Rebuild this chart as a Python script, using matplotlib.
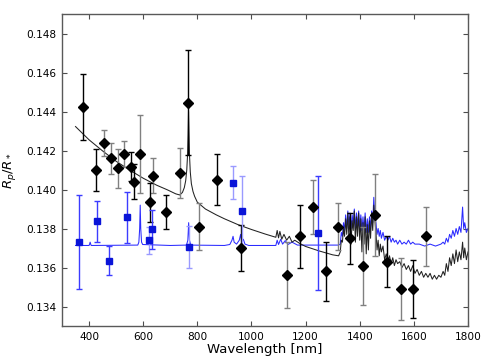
import matplotlib
matplotlib.use("Agg")
import matplotlib.pyplot as plt
import numpy as np

# measured points, black error bars
black_wl = [378, 426, 555, 567, 626, 685, 767, 874, 963, 1178, 1274, 1363, 1500, 1596]
black_rp = [0.14425, 0.14100, 0.14118, 0.14040, 0.13935, 0.13883, 0.14445, 0.14050,
            0.13700, 0.13760, 0.13580, 0.13750, 0.13630, 0.13490]
black_err = [0.0017, 0.0011, 0.00075, 0.0009, 0.0010, 0.00088, 0.0027, 0.0013,
             0.0012, 0.0016, 0.0015, 0.0013, 0.0013, 0.0015]

# measured points, grey error bars
grey_wl = [456, 481, 507, 530, 589, 637, 737, 807, 1133, 1226, 1318, 1411, 1456, 1552, 1644]
grey_rp = [0.14238, 0.14161, 0.14110, 0.14182, 0.14183, 0.14070, 0.14084, 0.13810,
           0.13560, 0.13910, 0.13810, 0.13610, 0.13870, 0.13490, 0.13760]
grey_err = [0.00065, 0.0008, 0.0010, 0.00065, 0.0020, 0.0009, 0.0013, 0.0012,
            0.0017, 0.0014, 0.0012, 0.0020, 0.0021, 0.0016, 0.0015]

# blue squares
blue_wl = [364, 431, 474, 542, 631, 1246]
blue_rp = [0.13730, 0.13837, 0.13635, 0.13858, 0.13795, 0.13777]
blue_err = [0.0024, 0.00105, 0.00075, 0.0013, 0.0010, 0.0029]
lblue_wl = [620, 770, 933, 964]
lblue_rp = [0.13740, 0.13705, 0.14034, 0.13888]
lblue_err = [0.0007, 0.0011, 0.00085, 0.0018]

# black model spectrum
model_k_wl = [350, 400, 450, 500, 550, 600, 650, 690, 720, 735, 745, 752, 757, 761, 764,
              766, 767.5, 769, 771, 774, 778, 784, 790, 800, 830, 870, 900, 950, 1000,
              1050, 1090, 1095, 1100, 1105, 1112, 1120, 1130, 1140, 1150, 1160, 1180,
              1200, 1250, 1300, 1322, 1328,
              1332, 1336, 1340, 1344, 1348, 1352, 1356, 1360, 1364, 1368, 1372, 1376,
              1380, 1384, 1388, 1392, 1396, 1400, 1404, 1408, 1412, 1416, 1420, 1424,
              1428, 1432, 1436, 1440, 1444, 1448, 1452, 1456, 1460, 1464, 1468, 1472,
              1476, 1480, 1486, 1492, 1498, 1504, 1510, 1516, 1522, 1528, 1534, 1540,
              1548, 1556, 1564, 1572, 1580, 1588, 1596, 1604, 1612, 1620, 1628, 1636,
              1644, 1652, 1660, 1668, 1676, 1684, 1692, 1700, 1708, 1714, 1720, 1726,
              1732, 1738, 1744, 1750, 1756, 1762, 1768, 1774, 1780, 1784, 1788, 1794, 1800]
model_k_rp = [0.14323, 0.14255, 0.14198, 0.14145, 0.14100, 0.14058, 0.14022, 0.13998,
              0.13978, 0.13972, 0.13985, 0.14010, 0.14045, 0.14100, 0.14180,
              0.14280, 0.14400, 0.14300, 0.14180, 0.14090, 0.14030, 0.13990, 0.13965,
              0.13935, 0.13900, 0.13870, 0.13850, 0.13820, 0.13795,
              0.13772, 0.13755, 0.13790, 0.13752, 0.13785, 0.13745, 0.13770, 0.13740,
              0.13760, 0.13730, 0.13740, 0.13722,
              0.13708, 0.13685, 0.13665, 0.13660, 0.13680,
              0.1374, 0.1373, 0.1380, 0.1376, 0.1385, 0.1377, 0.1388, 0.1375, 0.1386,
              0.1372, 0.1384, 0.1379, 0.1389, 0.1373, 0.1386, 0.1376, 0.1388, 0.1374,
              0.1385, 0.1368, 0.1383, 0.1372, 0.1386, 0.1367, 0.1382, 0.1369, 0.1384,
              0.1375, 0.1388, 0.1379, 0.1392, 0.1384, 0.1378, 0.1369, 0.1374, 0.1366,
              0.1372, 0.1368, 0.1371, 0.1364, 0.1367, 0.1363, 0.1366, 0.1362, 0.1365,
              0.1361, 0.1364, 0.1362, 0.1363, 0.1360, 0.1362, 0.1359, 0.1361, 0.1358,
              0.1361, 0.1357, 0.1359, 0.1356, 0.1358, 0.1355, 0.1357, 0.1355, 0.1357,
              0.1354, 0.1356, 0.1354, 0.1356, 0.1355, 0.1358, 0.1356, 0.1362, 0.1358,
              0.1365, 0.1361, 0.1367, 0.1362, 0.1369, 0.1363, 0.1368, 0.1364, 0.1373,
              0.1365, 0.1370, 0.1364, 0.1368]

# blue model spectrum
model_b_wl = [350, 400, 402, 404, 406, 408, 580, 584, 587, 589, 591, 594, 598, 700, 760,
              765, 768, 771, 776, 900, 920, 928, 932, 936, 945, 955, 960, 964, 970, 976,
              990, 1090, 1095, 1100, 1108, 1115, 1125, 1135, 1150, 1170, 1300, 1322, 1328,
              1332, 1336, 1340, 1344, 1348, 1352, 1356, 1360, 1364, 1368, 1372, 1376,
              1380, 1384, 1388, 1392, 1396, 1400, 1404, 1408, 1412, 1416, 1420, 1424,
              1428, 1432, 1436, 1440, 1444, 1448, 1452, 1456, 1460, 1464, 1468, 1472,
              1476, 1480, 1486, 1492, 1498, 1504, 1510, 1516, 1522, 1528, 1534, 1540,
              1548, 1556, 1564, 1572, 1580, 1588, 1596, 1604, 1620, 1640, 1660, 1680,
              1700, 1708, 1714, 1720, 1726, 1732, 1738, 1744, 1750, 1756, 1762, 1768,
              1774, 1780, 1784, 1788, 1794, 1800]
model_b_rp = [0.13713, 0.13713, 0.13720, 0.13730, 0.13720, 0.13713, 0.13715, 0.13730,
              0.13800, 0.13920, 0.13800, 0.13730, 0.13718, 0.13713, 0.13715,
              0.13740, 0.13830, 0.13740, 0.13715, 0.13713, 0.13718, 0.13740, 0.13760,
              0.13730, 0.13720, 0.13740, 0.13770, 0.13730, 0.13745, 0.13720,
              0.13713, 0.13713, 0.13740, 0.13718, 0.13745, 0.13720, 0.13738, 0.13718,
              0.13730, 0.13715, 0.13715, 0.13715, 0.13720,
              0.1378, 0.1376, 0.1383, 0.1379, 0.1387, 0.1380, 0.1389, 0.1381, 0.1388,
              0.1380, 0.1387, 0.1382, 0.1390, 0.1380, 0.1388, 0.1381, 0.1389, 0.1380,
              0.1387, 0.1379, 0.1386, 0.1379, 0.1388, 0.1378, 0.1385, 0.1378, 0.1386,
              0.1380, 0.1389, 0.1383, 0.1396, 0.1386, 0.1383, 0.1377, 0.1380, 0.1376,
              0.1379, 0.1375, 0.1378, 0.1374, 0.1376, 0.1374, 0.1376, 0.1373, 0.1375,
              0.1373, 0.1374, 0.1372, 0.1374, 0.1372, 0.1373, 0.1372, 0.1374, 0.1372,
              0.1373, 0.1372, 0.1372, 0.1371, 0.1372, 0.1371,
              0.1372, 0.1373, 0.1372, 0.1375, 0.1373, 0.1377, 0.1375, 0.1379, 0.1376,
              0.1380, 0.1377, 0.1381, 0.1378, 0.1391, 0.1380, 0.1383, 0.1378, 0.1380]

x_ticks = [400, 600, 800, 1000, 1200, 1400, 1600, 1800]
y_ticks = [0.134, 0.136, 0.138, 0.140, 0.142, 0.144, 0.146, 0.148]

fig = plt.figure(figsize=(4.9, 3.64), dpi=100)
ax = fig.add_axes([0.1265, 0.1044, 0.8286, 0.857])

ax.plot(model_b_wl, model_b_rp, color="#2b2bff", linewidth=0.75, zorder=2)
ax.plot(model_k_wl, model_k_rp, color="#222222", linewidth=0.75, zorder=2)

common = dict(fmt="none", elinewidth=1.0, capsize=2.2, capthick=1.0, zorder=3)
ax.errorbar(grey_wl, grey_rp, yerr=grey_err, ecolor="#808080", **common)
ax.errorbar(black_wl, black_rp, yerr=black_err, ecolor="black", **common)
ax.errorbar(lblue_wl, lblue_rp, yerr=lblue_err, ecolor="#9a9aff", **common)
ax.errorbar(blue_wl, blue_rp, yerr=blue_err, ecolor="#3c3cff", **common)

ax.plot(black_wl + grey_wl, black_rp + grey_rp, "D", color="black",
        markersize=4.6, linestyle="none", zorder=4)
ax.plot(blue_wl + lblue_wl, blue_rp + lblue_rp, "s", color="#0a14d8",
        markeredgecolor="#0a14d8", markersize=4.4, linestyle="none", zorder=4)

ax.set_xlim(300, 1800)
ax.set_ylim(0.133, 0.149)
ax.set_xticks(x_ticks)
ax.set_yticks(y_ticks)
ax.set_yticklabels(["%.3f" % v for v in y_ticks])
ax.tick_params(direction="in", top=True, right=True, length=3.5, width=0.8,
               labelsize=7.6, pad=4, color="0.3")
for spine in ax.spines.values():
    spine.set_color("0.35")
    spine.set_linewidth(1.0)

ax.set_xlabel("Wavelength [nm]", fontsize=9.5, labelpad=1)
ax.set_ylabel(r"$R_p/R_*$", fontsize=9.5, labelpad=6)

fig.savefig("out.png", dpi=100)
